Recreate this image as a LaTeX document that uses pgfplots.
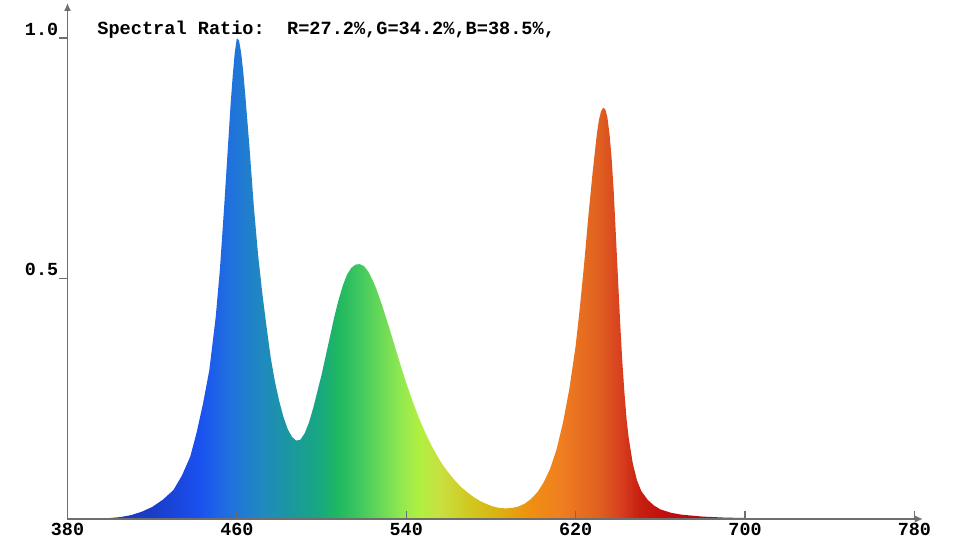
\documentclass[border=0pt]{standalone}
\usepackage{pgfplots}
\pgfplotsset{compat=1.18}
\usepackage{fontspec}
\newfontfamily\mono{Liberation Mono}
\usetikzlibrary{arrows.meta}

\definecolor{s380}{HTML}{1838B8}
\definecolor{s420}{HTML}{1A3CC8}
\definecolor{s442}{HTML}{1A50F0}
\definecolor{s456}{HTML}{2070E0}
\definecolor{s471}{HTML}{2088C0}
\definecolor{s485}{HTML}{1A98A0}
\definecolor{s499}{HTML}{18A880}
\definecolor{s508}{HTML}{20B860}
\definecolor{s518}{HTML}{40C860}
\definecolor{s537}{HTML}{90E850}
\definecolor{s546}{HTML}{B0F040}
\definecolor{s556}{HTML}{C8E040}
\definecolor{s570}{HTML}{D0C820}
\definecolor{s584}{HTML}{DCB010}
\definecolor{s598}{HTML}{F09010}
\definecolor{s612}{HTML}{F08020}
\definecolor{s631}{HTML}{E06020}
\definecolor{s641}{HTML}{D84020}
\definecolor{s650}{HTML}{C82010}
\definecolor{s660}{HTML}{C01010}
\definecolor{s700}{HTML}{B00010}
\definecolor{s780}{HTML}{A00010}
\definecolor{axgray}{HTML}{6E6E6E}

% positions: 25 + (lambda-380)/8 bp
\pgfdeclarehorizontalshading{spectrum}{100bp}{%
color(0bp)=(s380); color(25bp)=(s380); color(30bp)=(s420);
color(32.75bp)=(s442); color(34.5bp)=(s456); color(36.375bp)=(s471);
color(38.125bp)=(s485); color(39.875bp)=(s499); color(41bp)=(s508);
color(42.25bp)=(s518); color(44.625bp)=(s537); color(45.75bp)=(s546);
color(47bp)=(s556); color(48.75bp)=(s570); color(50.5bp)=(s584);
color(52.25bp)=(s598); color(54bp)=(s612); color(56.375bp)=(s631);
color(57.625bp)=(s641); color(58.75bp)=(s650); color(60bp)=(s660);
color(65bp)=(s700); color(75bp)=(s780); color(100bp)=(s780)}

\pgfplotstableread{
x y
380 0
390 0.001
400 0.002
405 0.004
410 0.008
415 0.015
420 0.025
425 0.04
430 0.06
434 0.09
438 0.13
441 0.18
444 0.24
447 0.31
450 0.42
452 0.52
454 0.65
456 0.79
457 0.86
458 0.92
459 0.97
460 1.0
461 0.995
462 0.97
463 0.93
464 0.88
466 0.77
468 0.65
470 0.55
472 0.47
474 0.40
476 0.335
478 0.285
480 0.245
482 0.212
484 0.187
486 0.171
488 0.163
490 0.165
492 0.178
494 0.2
496 0.23
498 0.265
500 0.30
502 0.34
504 0.38
506 0.42
508 0.455
510 0.485
512 0.508
514 0.522
516 0.529
518 0.53
520 0.526
522 0.515
524 0.498
526 0.477
528 0.452
530 0.425
532 0.397
534 0.368
536 0.339
538 0.31
540 0.283
542 0.257
544 0.233
546 0.21
548 0.189
550 0.17
552 0.152
554 0.136
556 0.121
558 0.108
560 0.096
563 0.08
566 0.066
569 0.055
572 0.045
575 0.037
578 0.031
581 0.026
584 0.023
587 0.022
590 0.023
593 0.026
596 0.032
599 0.042
602 0.056
605 0.077
608 0.105
611 0.145
614 0.2
617 0.27
620 0.36
622 0.44
624 0.53
626 0.63
628 0.72
630 0.80
631 0.83
632 0.848
633 0.855
634 0.852
635 0.835
636 0.80
637 0.75
638 0.68
639 0.59
640 0.50
641 0.41
642 0.33
643 0.265
644 0.21
645 0.17
647 0.115
649 0.08
651 0.058
654 0.04
657 0.028
660 0.02
665 0.013
670 0.009
680 0.005
690 0.003
700 0.002
720 0.001
740 0.0005
780 0
}\spd

\begin{document}
\begin{tikzpicture}
\path[use as bounding box] (0,0) rectangle (480pt,270pt);
\begin{axis}[
  at={(33.75pt,10.5pt)}, anchor=south west,
  scale only axis, width=427.7pt, height=258pt,
  xmin=380, xmax=784, ymin=0, ymax=1.073,
  axis x line=bottom, axis y line=left,
  axis line style={axgray, line width=0.6pt, -{Latex[length=4pt,width=3.5pt]}},
  xtick={380,460,540,620,700,780},
  xticklabels={380,460,540,620,700,780},
  ytick={0.5,1.0},
  yticklabels={0.5,1.0},
  tick style={axgray, line width=0.6pt},
  major tick length=4pt,
  xtick align=inside,
  ytick style={xshift=-2pt},
  ticklabel style={font=\mono\bfseries\fontsize{9.2}{11}\selectfont, black},
  xticklabel style={inner sep=1.5pt, yshift=-0.5pt},
  yticklabel style={anchor=south east, inner xsep=2.5pt, inner ysep=1pt},
  axis on top,
  clip=false,
]
\addplot[draw=none, shade, shading=spectrum] table[x=x,y=y] {\spd} \closedcycle;
\end{axis}
\node[anchor=base west, inner sep=0pt, font=\mono\bfseries\fontsize{9.3}{11}\selectfont]
  at (48.5pt,252.5pt) {Spectral Ratio:\ \ R=27.2\%,G=34.2\%,B=38.5\%,};
\end{tikzpicture}
\end{document}
